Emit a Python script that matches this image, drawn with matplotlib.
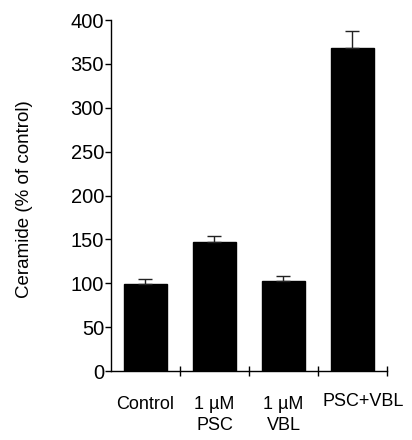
import matplotlib
matplotlib.use("Agg")
import matplotlib.pyplot as plt
import matplotlib.transforms as mtransforms
import numpy as np

plt.rcParams['font.family'] = ['Liberation Sans', 'DejaVu Sans']

# data
labels = ['Control', '1 \u00b5M\nPSC', '1 \u00b5M\nVBL', 'PSC+VBL']
ceramide = [99, 147, 103, 368]
sem = [6, 7, 5, 19]
yticks = [0, 50, 100, 150, 200, 250, 300, 350, 400]

fig = plt.figure(figsize=(4.12, 4.40), dpi=100)
ax = fig.add_axes([0.2694, 0.1568, 0.6699, 0.7977])

x = np.arange(len(ceramide)) + 0.5
ax.bar(x, ceramide, width=0.61, color='black', edgecolor='black')
ax.errorbar(x, ceramide, yerr=[np.zeros(len(sem)), sem], fmt='none',
            ecolor='#222222', elinewidth=1.0, capsize=5, capthick=1.0)

ax.set_xlim(0, len(ceramide))
ax.set_ylim(0, 400)
ax.set_yticks(yticks)
ax.set_xticks(np.arange(1, len(ceramide) + 1))
ax.set_xticklabels([])
ax.set_xticks(x, minor=True)
ax.set_xticklabels(labels, minor=True, fontsize=13, linespacing=1.3)
ax.tick_params(axis='x', which='minor', length=0, pad=18)
ax.tick_params(axis='x', which='major', direction='inout', length=7, width=1)
ax.tick_params(axis='y', direction='out', length=4, width=1, labelsize=14.5, pad=1)

# last label sits a little right and higher in the original
last = ax.get_xticklabels(minor=True)[-1]
last.set_transform(last.get_transform() +
                   mtransforms.ScaledTranslation(0.11, 0.03, fig.dpi_scale_trans))

for spine in ['top', 'right']:
    ax.spines[spine].set_visible(False)
for spine in ['left', 'bottom']:
    ax.spines[spine].set_linewidth(1.0)

ax.set_ylabel('Ceramide (% of control)', fontsize=13.5)
ax.yaxis.set_label_coords(-0.283, 0.49)

fig.savefig('out.png', dpi=100)
